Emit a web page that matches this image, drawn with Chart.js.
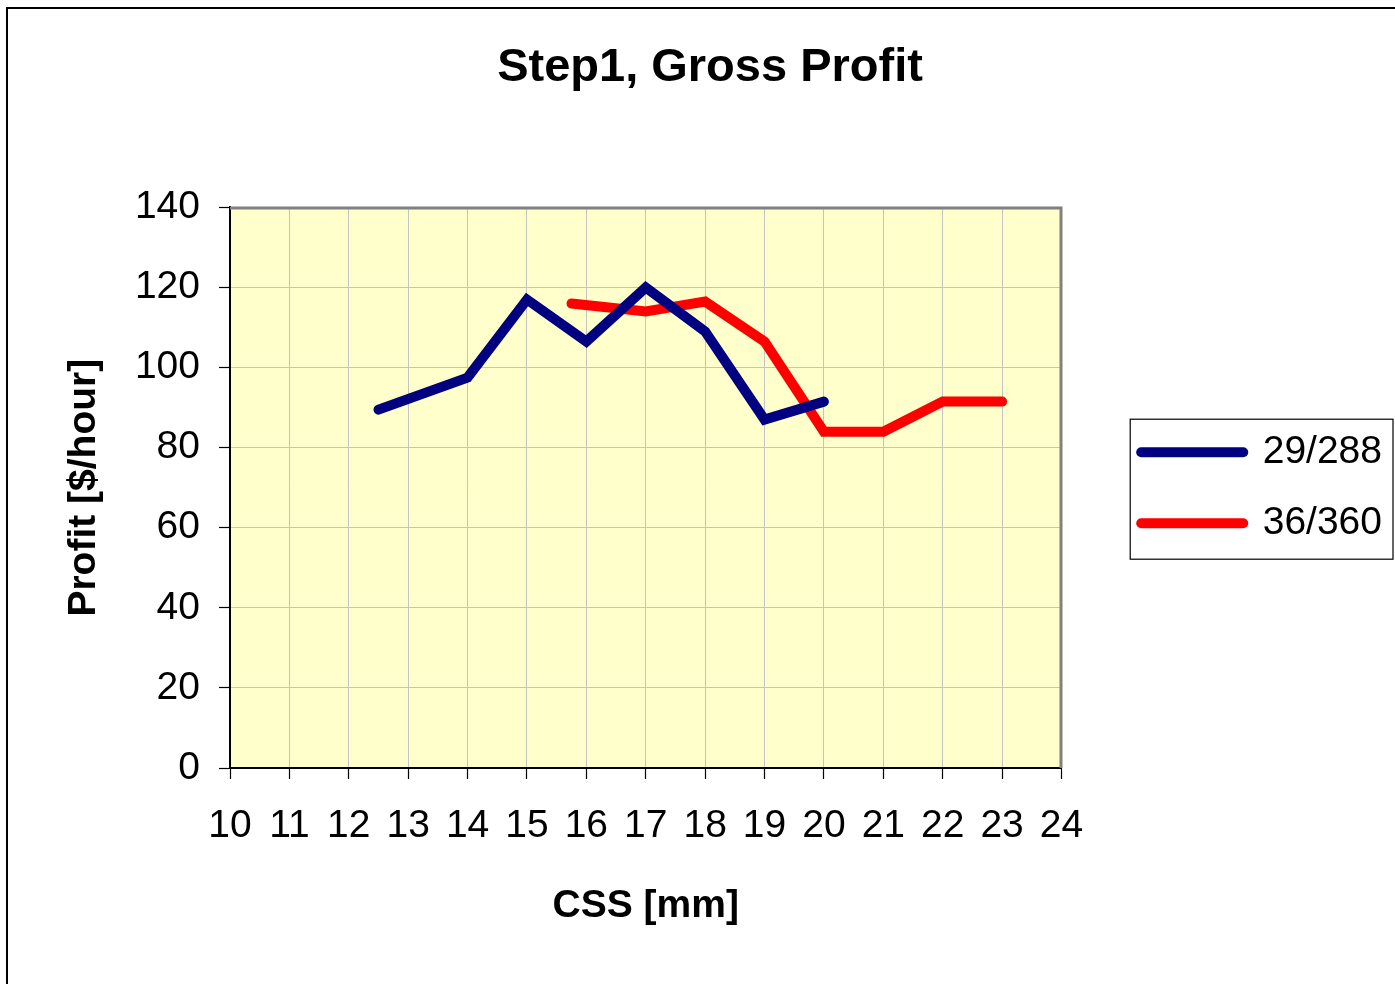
<!DOCTYPE html>
<html><head><meta charset="utf-8">
<script src="https://cdn.jsdelivr.net/npm/chart.js@4.4.1/dist/chart.umd.min.js"></script>
<style>html,body{margin:0;padding:0;background:#fff;overflow:hidden}canvas{display:block}</style>
</head><body>
<canvas id="c" width="1395" height="984"></canvas>
<script>
const titleText = 'Step1, Gross Profit';
const xAxisTitle = 'CSS [mm]';
const yAxisTitle = 'Profit [$/hour]';
const seriesNames = ['29/288', '36/360'];
const series1X = [12.5, 14, 15, 16, 17, 18, 19, 20];
const series1Y = [89.5, 97.5, 117, 106.5, 120, 109, 87, 91.5];
const series2X = [15.75, 17, 18, 19, 20, 21, 22, 23];
const series2Y = [116, 114, 116.5, 106.5, 84, 84, 91.5, 91.5];
const xMin = 10, xMax = 24, xStep = 1;
const yMin = 0, yMax = 140, yStep = 20;
const seriesColors = ['#000080', '#FF0000'];

const FONT = "'Liberation Sans', Arial, sans-serif";
Chart.defaults.font.family = FONT;
Chart.defaults.color = '#000';

const tickFontSize = 39, legendFontSize = 39, legendPad = 32, legendLineW = 102;
const padL = 28, padR = 3, plotLeft = 230, plotRight = 1061;
// measure legend text to size the gap between plot and legend
const mctx = document.createElement('canvas').getContext('2d');
mctx.font = legendFontSize + 'px ' + FONT;
const maxTextW = Math.max(...seriesNames.map(s => mctx.measureText(s).width));
const legendW = legendPad + legendLineW + legendFontSize / 2 + maxTextW + 10.5;
const gapW = (1395 - padR) - legendW - plotRight;

const toPts = (xs, ys) => xs.map((x, i) => ({x, y: ys[i]}));

const decor = {
  id: 'decor',
  beforeDraw(chart) {
    const {ctx, chartArea: a} = chart;
    ctx.save();
    ctx.fillStyle = '#fff';
    ctx.fillRect(0, 0, chart.width, chart.height);
    ctx.strokeStyle = '#000'; ctx.lineWidth = 2;
    ctx.strokeRect(7, 8, chart.width + 40, chart.height + 40);
    ctx.fillStyle = '#FFFFCC';
    ctx.fillRect(a.left, a.top, a.right - a.left, a.bottom - a.top);
    ctx.restore();
  },
  beforeDatasetsDraw(chart) {
    const {ctx, chartArea: a} = chart;
    ctx.save();
    ctx.strokeStyle = '#808080'; ctx.lineWidth = 3;
    ctx.beginPath();
    ctx.moveTo(a.left, a.top + 0.5);
    ctx.lineTo(a.right - 0.5, a.top + 0.5);
    ctx.lineTo(a.right - 0.5, a.bottom);
    ctx.stroke();
    ctx.restore();
  },
  afterDraw(chart) {
    const {ctx} = chart;
    const lg = chart.legend;
    const hb = lg.legendHitBoxes;
    if (!hb || !hb.length) return;
    const left = hb[0].left - 11;
    const right = Math.min(lg.right + 1, chart.width - 2);
    const top = hb[0].top + legendFontSize / 2 - 33;
    const bottom = hb[hb.length - 1].top + legendFontSize / 2 + 36;
    ctx.save();
    ctx.strokeStyle = '#000'; ctx.lineWidth = 1.2;
    ctx.strokeRect(left, top, right - left, bottom - top);
    ctx.restore();
  }
};

new Chart(document.getElementById('c'), {
  type: 'line',
  data: {
    datasets: [
      {label: seriesNames[0], data: toPts(series1X, series1Y), borderColor: seriesColors[0], backgroundColor: seriesColors[0],
       borderWidth: 10, borderCapStyle: 'round', pointRadius: 0, tension: 0, fill: false},
      {label: seriesNames[1], data: toPts(series2X, series2Y), borderColor: seriesColors[1], backgroundColor: seriesColors[1],
       borderWidth: 10, borderCapStyle: 'round', pointRadius: 0, tension: 0, fill: false}
    ]
  },
  options: {
    responsive: false,
    animation: false,
    events: [],
    layout: {padding: {left: padL, right: padR, top: 0, bottom: 0}},
    plugins: {
      title: {display: true, text: titleText, color: '#000',
        font: {size: 47, weight: 'bold', family: FONT}, padding: {top: 40, bottom: 111}},
      legend: {
        display: true, position: 'right', fullSize: false, align: 'center', maxWidth: 500,
        labels: {
          usePointStyle: true, pointStyle: 'line', pointStyleWidth: legendLineW,
          padding: legendPad, color: '#000', font: {size: legendFontSize, family: FONT},
          generateLabels: (chart) => chart.data.datasets.map((ds, i) => ({
            text: ds.label, strokeStyle: ds.borderColor, fillStyle: ds.borderColor,
            lineWidth: 10, lineCap: 'round', pointStyle: 'line', hidden: false,
            datasetIndex: i, fontColor: '#000'
          }))
        }
      },
      tooltip: {enabled: false}
    },
    scales: {
      x: {
        type: 'linear', position: 'bottom', min: xMin, max: xMax,
        ticks: {stepSize: xStep, autoSkip: false, maxRotation: 0, padding: 24, color: '#000',
          font: {size: tickFontSize, family: FONT}},
        grid: {color: '#c4c4c4', lineWidth: 1, drawTicks: true, tickLength: 11, tickColor: '#000', tickWidth: 1.2},
        border: {display: true, color: '#000', width: 2},
        title: {display: true, text: xAxisTitle, color: '#000', font: {size: 39, weight: 'bold', family: FONT},
          padding: {top: 0, bottom: 54}},
        afterFit: (s) => { s.height = 216; }
      },
      y: {
        type: 'linear', position: 'left', min: yMin, max: yMax,
        ticks: {stepSize: yStep, padding: 19, color: '#000', font: {size: tickFontSize, family: FONT}},
        grid: {color: '#c4c4c4', lineWidth: 1, drawTicks: true, tickLength: 11, tickColor: '#000', tickWidth: 1.2},
        border: {display: true, color: '#000', width: 2},
        title: {display: true, text: yAxisTitle, color: '#000', font: {size: 39, weight: 'bold', family: FONT},
          padding: {top: 33, bottom: 0}},
        afterFit: (s) => { s.width = plotLeft - padL; }
      },
      gap: {
        type: 'linear', position: 'right', display: true,
        ticks: {display: false}, grid: {display: false}, border: {display: false},
        afterFit: (s) => { s.width = gapW; }
      }
    }
  },
  plugins: [decor]
});
</script>
</body></html>
